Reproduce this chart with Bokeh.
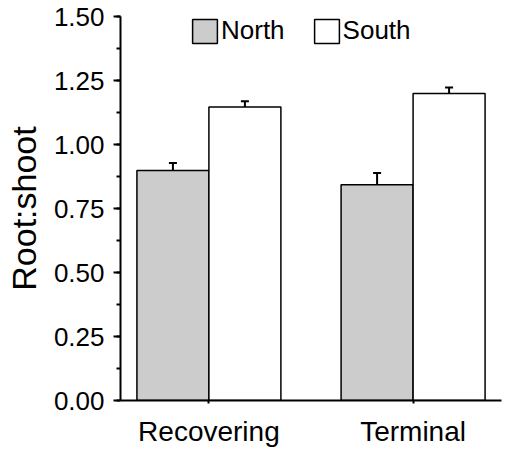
from bokeh.plotting import figure
from bokeh.models import (FactorRange, Range1d, ColumnDataSource, Whisker, TeeHead,
                          SingleIntervalTicker, Legend, LegendItem, PrintfTickFormatter)
from bokeh.transform import dodge
from bokeh.embed import file_html
from bokeh.resources import INLINE

categories = ["Recovering", "Terminal"]
series = ["North", "South"]
north = [0.898, 0.843]
south = [1.146, 1.199]
north_err = [0.030, 0.046]
south_err = [0.023, 0.024]

FONT = "Liberation Sans"
OFF = 0.1763
BAR_W = 0.3526

src = ColumnDataSource(dict(
    cat=categories,
    north=north,
    south=south,
    north_hi=[v + e for v, e in zip(north, north_err)],
    south_hi=[v + e for v, e in zip(south, south_err)],
))

p = figure(x_range=FactorRange(factors=categories, range_padding=-0.067),
           y_range=Range1d(0, 1.5),
           width=505, height=457, output_backend="svg", toolbar_location=None,
           min_border_left=120, min_border_right=4, min_border_top=16, min_border_bottom=57)

r_n = p.vbar(x=dodge("cat", -OFF, range=p.x_range), top="north", width=BAR_W, source=src,
             fill_color="#cccccc", line_color="black", line_width=1.5)
r_s = p.vbar(x=dodge("cat", OFF, range=p.x_range), top="south", width=BAR_W, source=src,
             fill_color="white", line_color="black", line_width=1.5)

for off, lo, hi in [(-OFF, "north", "north_hi"), (OFF, "south", "south_hi")]:
    w = Whisker(base=dodge("cat", off, range=p.x_range), lower=lo, upper=hi, source=src,
                line_width=2, line_color="black",
                upper_head=TeeHead(size=8, line_width=2, line_color="black"), lower_head=None)
    p.add_layout(w)

p.xgrid.visible = False
p.ygrid.visible = False
p.outline_line_color = None
p.background_fill_color = "white"
p.border_fill_color = "white"

ya = p.yaxis[0]
ya.ticker = SingleIntervalTicker(interval=0.25, num_minor_ticks=2)
ya.formatter = PrintfTickFormatter(format="%.2f")
ya.axis_line_width = 2
ya.major_tick_line_width = 2
ya.minor_tick_line_width = 2
ya.major_tick_in = 0
ya.major_tick_out = 7
ya.minor_tick_in = 0
ya.minor_tick_out = 4
ya.major_label_text_font = FONT
ya.major_label_text_font_size = "26px"
ya.major_label_text_color = "black"
ya.major_label_standoff = 9
ya.axis_label = "Root:shoot"
ya.axis_label_text_font = FONT
ya.axis_label_text_font_size = "34px"
ya.axis_label_text_font_style = "normal"
ya.axis_label_text_color = "black"
ya.axis_label_standoff = 8

xa = p.xaxis[0]
xa.axis_line_width = 2
xa.major_tick_line_width = 2
xa.major_tick_in = 0
xa.major_tick_out = 3
xa.minor_tick_line_color = None
xa.major_label_text_font = FONT
xa.major_label_text_font_size = "28px"
xa.major_label_text_color = "black"
xa.major_label_standoff = 12

legend = Legend(items=[LegendItem(label=series[0], renderers=[r_n]),
                       LegendItem(label=series[1], renderers=[r_s])],
                orientation="horizontal", location=(69, 354),
                glyph_width=31, glyph_height=30, label_standoff=1, spacing=26,
                padding=0, margin=0, border_line_alpha=0, background_fill_alpha=0,
                label_text_font=FONT, label_text_font_size="26px", label_text_color="black")
p.add_layout(legend)

open("out.html", "w").write(file_html(p, INLINE))
